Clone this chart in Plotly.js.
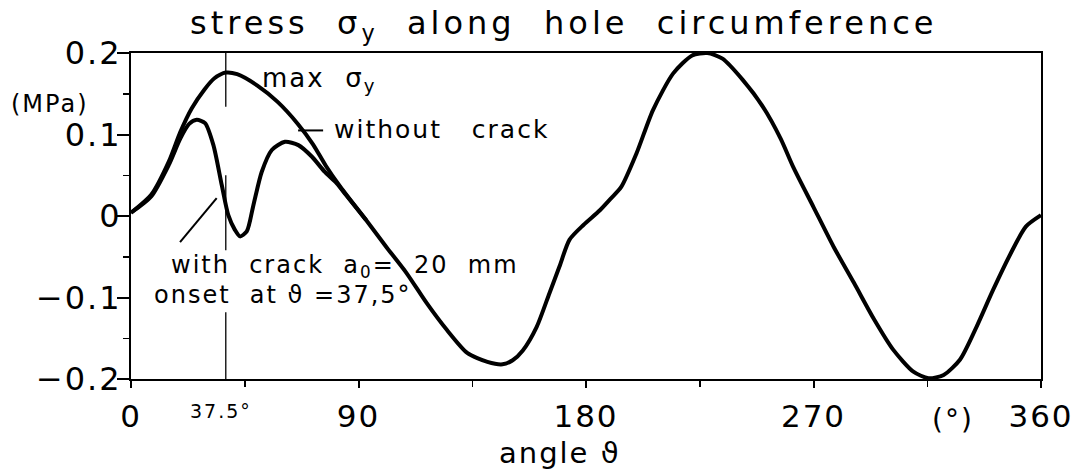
<!DOCTYPE html>
<html>
<head>
<meta charset="utf-8">
<script src="https://cdn.plot.ly/plotly-3.0.1.min.js"></script>
<style>
  html, body { margin: 0; padding: 0; background: #fff; }
  #chart { width: 1080px; height: 475px; }
  /* plotter-style lettering: open spacing (also applied to the measuring node) */
  text { letter-spacing: 2px; }
  .gtitle { letter-spacing: 4px; }
  /* value labels sit right against the long tick marks */
  .ytick text { translate: 11px 0; }
</style>
</head>
<body>
<div id="chart"></div>
<script>
// stress sigma_y along the hole circumference, angle in degrees
const angleNoCrack = [0, 8, 15, 19.5, 24, 29, 33, 37.5, 42, 50, 58, 66, 72, 77, 83, 93, 101, 109, 117, 125, 133, 141, 147, 151, 155, 160.5, 165.5, 169.5, 173.5, 179, 185.5, 190, 194, 200, 206.5, 214.5, 222, 228, 234, 242, 250, 257, 262, 270, 278, 286, 294, 301.5, 309.5, 315.5, 321.5, 328, 334.5, 341, 348, 354, 360];
const stressNoCrack = [0.004, 0.026, 0.067, 0.103, 0.132, 0.155, 0.169, 0.176, 0.174, 0.160, 0.140, 0.113, 0.088, 0.062, 0.035, -0.005, -0.038, -0.070, -0.107, -0.140, -0.168, -0.179, -0.182, -0.177, -0.165, -0.136, -0.095, -0.062, -0.029, -0.011, 0.007, 0.022, 0.036, 0.077, 0.130, 0.175, 0.197, 0.200, 0.193, 0.167, 0.134, 0.095, 0.060, 0.011, -0.038, -0.082, -0.127, -0.164, -0.191, -0.199, -0.195, -0.176, -0.136, -0.091, -0.046, -0.013, 0.001];

// with crack a0 = 20 mm, onset at 37.5 deg
const angleCrack = [0, 8, 15, 19.5, 23, 26, 29.3, 32.6, 35.9, 38.5, 41.1, 43.1, 45.8, 48.4, 51.7, 55.7, 60.9, 66.2, 71.5, 76.7, 81.4, 85, 93];
const stressCrack = [0.004, 0.024, 0.063, 0.095, 0.113, 0.118, 0.114, 0.087, 0.038, 0.001, -0.017, -0.025, -0.019, 0.013, 0.054, 0.081, 0.091, 0.087, 0.073, 0.054, 0.040, 0.026, -0.005];

const crackOnset = 37.5;
const xTickVals = [0, 90, 180, 270, 360];
const xTickText = ['0', '90', '180', '270', '360'];
const yTickVals = [-0.2, -0.1, 0, 0.1, 0.2];
const yTickText = ['\u22120.2', '\u22120.1', '0', '0.1', '0.2'];

const FONT = 'DejaVu Sans, Liberation Sans, sans-serif';
const NB = '\u00A0';

const curveLine = { color: '#000', width: 4, shape: 'spline', smoothing: 0.7 };

const traces = [
  { x: angleNoCrack, y: stressNoCrack, type: 'scatter', mode: 'lines', line: curveLine, name: 'without crack', hoverinfo: 'skip' },
  { x: angleCrack, y: stressCrack, type: 'scatter', mode: 'lines', line: curveLine, name: 'with crack', hoverinfo: 'skip' }
];

// vertical marker at the crack onset, broken where the labels sit
const onsetSegments = [[0.2, 0.134], [0.050, -0.042], [-0.118, -0.2]];
const shapes = onsetSegments.map(s => ({
  type: 'line', xref: 'x', yref: 'y', x0: crackOnset, x1: crackOnset, y0: s[0], y1: s[1],
  line: { color: '#000', width: 1.3 }
}));
// leader lines
shapes.push({ type: 'line', xref: 'x', yref: 'y', x0: 66.1, y0: 0.105, x1: 76.0, y1: 0.105, line: { color: '#000', width: 2 } });
shapes.push({ type: 'line', xref: 'x', yref: 'y', x0: 19.4, y0: -0.032, x1: 33.9, y1: 0.022, line: { color: '#000', width: 2 } });

const annFont = { family: FONT, size: 24, color: '#000' };
const annotations = [
  { text: '(MPa)', xref: 'paper', yref: 'y', x: -0.089, y: 0.137, xanchor: 'center', yanchor: 'middle', showarrow: false, font: { family: FONT, size: 24, color: '#000' } },
  { text: 'max' + NB + NB + 'σ<sub>y</sub>', xref: 'x', yref: 'y', x: 51.0, y: 0.168, xanchor: 'left', yanchor: 'middle', showarrow: false, font: { family: FONT, size: 26, color: '#000' } },
  { text: 'without' + NB + NB + NB + 'crack', xref: 'x', yref: 'y', x: 79.5, y: 0.106, xanchor: 'left', yanchor: 'middle', showarrow: false, font: { family: FONT, size: 25, color: '#000' } },
  { text: 'with' + NB + NB + 'crack' + NB + NB + 'a<sub>0</sub>=' + NB + NB + '20' + NB + NB + 'mm', xref: 'x', yref: 'y', x: 15.0, y: -0.062, xanchor: 'left', yanchor: 'middle', showarrow: false, font: annFont },
  { text: 'onset' + NB + NB + 'at' + NB + 'ϑ' + NB + '=37,5°', xref: 'x', yref: 'y', x: 8.5, y: -0.097, xanchor: 'left', yanchor: 'middle', showarrow: false, font: annFont },
  { text: '37.5°', xref: 'x', yref: 'paper', x: 35.8, y: -0.098, xanchor: 'center', yanchor: 'middle', showarrow: false, font: { family: FONT, size: 19, color: '#000' } },
  { text: '(°)', xref: 'x', yref: 'paper', x: 325, y: -0.125, xanchor: 'center', yanchor: 'middle', showarrow: false, font: { family: FONT, size: 28, color: '#000' } },
  { text: 'angle' + NB + 'ϑ', xref: 'paper', yref: 'paper', x: 0.471, y: -0.228, xanchor: 'center', yanchor: 'middle', showarrow: false, font: { family: FONT, size: 29, color: '#000' } }
];

const layout = {
  width: 1080, height: 475,
  margin: { l: 131, r: 39, t: 53, b: 96, pad: 0 },
  paper_bgcolor: '#fff', plot_bgcolor: '#fff',
  showlegend: false,
  font: { family: FONT, color: '#000' },
  title: {
    text: 'stress' + NB + NB + 'σ<sub>y</sub>' + NB + NB + 'along' + NB + NB + 'hole' + NB + NB + 'circumference',
    font: { family: FONT, size: 32, color: '#000' },
    xref: 'container', yref: 'container', x: 0.522, xanchor: 'center', y: 0.952, yanchor: 'middle'
  },
  xaxis: {
    range: [0, 360], tickmode: 'array', tickvals: xTickVals, ticktext: xTickText,
    showgrid: false, zeroline: false, showline: true, mirror: true, linecolor: '#000', linewidth: 2,
    ticks: 'outside', ticklen: 7, tickwidth: 2, tickcolor: '#000', ticklabelstandoff: 2,
    minor: { dtick: 45, tick0: 0, ticks: 'outside', ticklen: 6, tickwidth: 1.5, tickcolor: '#000', showgrid: false },
    tickfont: { family: FONT, size: 31, color: '#000' }, fixedrange: true
  },
  yaxis: {
    range: [-0.2, 0.2], tickmode: 'array', tickvals: yTickVals, ticktext: yTickText,
    showgrid: false, zeroline: false, showline: true, mirror: true, linecolor: '#000', linewidth: 2,
    ticks: 'outside', ticklen: 12, tickwidth: 2, tickcolor: '#000', ticklabelstandoff: 0,
    minor: { dtick: 0.05, tick0: 0, ticks: 'outside', ticklen: 6, tickwidth: 1.5, tickcolor: '#000', showgrid: false },
    tickfont: { family: FONT, size: 32, color: '#000' }, fixedrange: true
  },
  shapes: shapes,
  annotations: annotations
};

Plotly.newPlot('chart', traces, layout, { staticPlot: true, displayModeBar: false });
</script>
</body>
</html>
